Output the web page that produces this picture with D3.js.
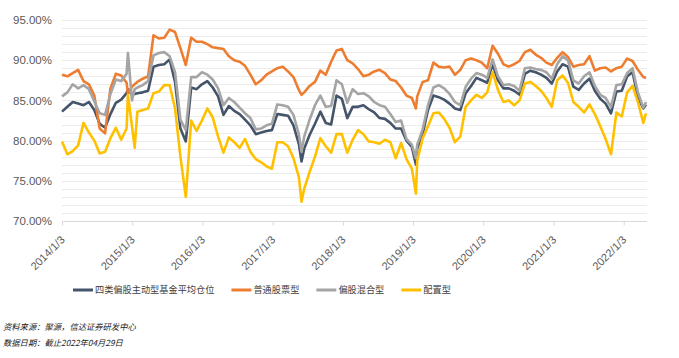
<!DOCTYPE html>
<html>
<head>
<meta charset="utf-8">
<script src="https://cdn.jsdelivr.net/npm/d3@7"></script>
<style>
  body { margin: 0; background: #fff; }
  svg { display: block; font-family: "Liberation Sans", Arial, sans-serif; }
  .grid line { stroke: #ececec; stroke-width: 1; }
  .axis text { fill: #595959; }
  .legend text { fill: #404040; font-family: "Noto Sans CJK SC", sans-serif; }
  .note { fill: #222; font-family: "Noto Sans CJK SC", sans-serif; font-style: italic; }
</style>
</head>
<body>
<svg id="chart" width="679" height="358"></svg>
<script>
// weekly positions, sampled every 4 weeks (plus a few spike weeks)
const dates = [
  '2014-01-03','2014-01-31','2014-02-28','2014-03-28','2014-04-25','2014-05-23','2014-06-20','2014-07-18','2014-08-15','2014-09-12','2014-10-10','2014-11-07','2014-12-05','2014-12-12',
  '2015-01-02','2015-01-16','2015-01-30','2015-02-27','2015-03-27','2015-04-24','2015-05-22','2015-06-19','2015-07-17','2015-08-14','2015-09-11','2015-10-09','2015-11-06','2015-12-04',
  '2016-01-01','2016-01-29','2016-02-26','2016-03-25','2016-04-22','2016-05-20','2016-06-17','2016-07-15','2016-08-12','2016-09-09','2016-10-07','2016-11-04','2016-12-02','2016-12-30',
  '2017-01-27','2017-02-24','2017-03-24','2017-04-21','2017-05-19','2017-06-02','2017-06-16','2017-07-14','2017-08-11','2017-09-08','2017-10-06','2017-11-03','2017-12-01','2017-12-29',
  '2018-01-26','2018-02-23','2018-03-23','2018-04-20','2018-05-18','2018-06-15','2018-07-13','2018-08-10','2018-09-07','2018-10-05','2018-11-02','2018-11-30','2018-12-28',
  '2019-01-18','2019-01-25','2019-02-22','2019-03-22','2019-04-19','2019-05-17','2019-06-14','2019-07-12','2019-08-09','2019-09-06','2019-10-04','2019-11-01','2019-11-29','2019-12-27',
  '2020-01-24','2020-02-21','2020-03-20','2020-04-17','2020-05-15','2020-06-12','2020-07-10','2020-08-07','2020-09-04','2020-10-02','2020-10-30','2020-11-27','2020-12-25',
  '2021-01-22','2021-02-19','2021-03-19','2021-04-16','2021-05-14','2021-06-11','2021-07-09','2021-08-06','2021-09-03','2021-10-01','2021-10-29','2021-11-26','2021-12-24',
  '2022-01-21','2022-02-18','2022-03-18','2022-04-15','2022-04-29'
];

// 四类偏股主动型基金平均仓位
const avgPos = [
  83.6, 84.2, 84.8, 84.6, 84.4, 84.8, 83.8, 82.1, 81.6, 83.3, 84.7, 85.1, 85.9, 86.4,
  85.7, 85.8, 85.9, 86.0, 86.2, 89.2, 89.4, 89.5, 90.1, 87.3, 81.5, 79.9, 86.6, 86.4,
  87.0, 87.4, 86.6, 85.5, 83.2, 84.3, 83.7, 83.3, 82.6, 81.9, 80.8, 81.0, 81.2, 81.3,
  83.3, 83.2, 83.1, 81.9, 79.6, 77.4, 79.0, 80.7, 82.1, 83.6, 82.2, 82.0, 85.6, 85.2,
  82.8, 84.2, 84.2, 84.4, 83.9, 83.5, 82.8, 82.7, 82.2, 81.5, 81.5, 80.0, 79.2,
  77.0, 79.0, 80.8, 83.8, 85.6, 85.4, 85.1, 84.6, 84.0, 83.8, 85.9, 86.8, 87.8, 87.5,
  87.2, 89.5, 87.5, 86.5, 86.5, 86.2, 85.7, 88.3, 88.7, 88.5, 88.2, 87.8, 87.1,
  88.6, 89.5, 89.2, 86.7, 86.3, 87.1, 87.7, 86.2, 85.2, 84.6, 83.4, 86.1, 86.2,
  88.0, 88.5, 85.4, 84.0, 84.5
];
// 普通股票型
const stockFund = [
  88.2, 88.0, 88.4, 88.8, 87.4, 87.0, 85.6, 81.5, 80.9, 86.5, 88.3, 88.1, 87.2, 85.8,
  86.7, 87.0, 87.3, 87.7, 88.0, 93.1, 92.7, 92.8, 93.8, 93.5, 91.5, 89.4, 92.8, 92.3,
  92.3, 92.0, 91.6, 91.5, 91.4, 90.5, 90.0, 89.8, 89.3, 88.2, 87.0, 87.5, 88.2, 88.6,
  89.0, 89.2, 88.6, 87.9, 86.3, 85.7, 86.0, 86.8, 87.3, 88.7, 88.2, 89.8, 91.2, 91.4,
  90.0, 89.6, 88.9, 88.0, 88.2, 88.6, 88.8, 88.4, 87.6, 87.4, 86.6, 85.6, 85.3,
  84.0, 85.5, 87.3, 87.5, 89.7, 89.2, 89.1, 89.2, 88.2, 88.8, 90.0, 90.2, 90.0, 89.7,
  89.0, 91.8, 90.8, 89.5, 89.2, 89.5, 89.9, 91.0, 91.3, 90.7, 90.3, 89.7, 89.4,
  90.3, 91.0, 90.4, 89.2, 89.4, 89.5, 90.5, 88.7, 89.0, 89.1, 88.6, 89.0, 89.2,
  90.2, 89.9, 88.8, 87.9, 87.8
];
// 偏股混合型
const mixedFund = [
  85.5, 86.0, 87.0, 86.5, 86.9, 86.4, 84.9, 83.4, 83.2, 85.8, 87.6, 87.4, 88.3, 90.9,
  85.0, 86.4, 86.6, 86.9, 87.4, 90.6, 90.9, 91.0, 90.5, 88.5, 82.6, 81.3, 87.9, 87.9,
  88.5, 88.2, 87.6, 86.5, 84.4, 85.3, 84.8, 84.1, 83.4, 82.8, 81.4, 81.5, 81.9, 82.1,
  84.5, 84.4, 84.2, 83.2, 80.8, 78.6, 80.5, 82.6, 84.4, 85.6, 84.2, 84.3, 87.5, 87.0,
  84.7, 86.4, 85.8, 85.9, 85.5, 84.8, 84.4, 84.2, 83.3, 82.3, 82.5, 80.2, 79.5,
  77.8, 79.5, 81.4, 84.4, 86.6, 86.9, 86.5, 85.8, 84.8, 84.4, 86.7, 87.7, 88.4, 88.2,
  87.8, 90.1, 88.0, 86.9, 87.0, 86.8, 86.2, 89.0, 89.1, 88.9, 88.8, 88.5, 87.7,
  89.5, 90.5, 90.0, 87.5, 87.1, 88.0, 88.5, 86.8, 85.7, 85.3, 84.2, 86.9, 87.0,
  88.4, 89.0, 86.0, 84.1, 84.8
];
// 配置型
const allocFund = [
  79.9, 78.3, 78.7, 79.4, 82.2, 81.0, 80.0, 78.4, 78.6, 80.3, 81.6, 80.1, 81.5, 85.7,
  81.8, 79.1, 83.6, 83.8, 84.0, 85.9, 86.1, 86.9, 86.9, 84.0, 78.0, 73.0, 82.5, 81.2,
  82.5, 84.0, 82.9, 80.5, 78.5, 80.4, 79.8, 79.1, 80.2, 78.6, 77.7, 77.3, 76.8, 76.5,
  79.8, 79.8, 79.3, 77.8, 75.5, 72.4, 74.0, 76.1, 78.0, 80.3, 79.3, 78.5, 80.8, 80.8,
  78.5, 80.1, 81.3, 80.8, 79.9, 79.8, 79.6, 80.1, 79.8, 77.8, 79.7, 77.7, 76.5,
  73.4, 77.5, 80.3, 81.8, 83.4, 83.5, 82.7, 81.6, 79.8, 80.5, 84.2, 85.0, 85.7, 85.3,
  86.0, 88.5, 86.3, 84.8, 85.0, 84.4, 85.0, 87.1, 87.3, 86.8, 86.2, 85.3, 84.2,
  87.5, 88.1, 87.2, 84.8, 84.2, 83.5, 84.5, 83.3, 81.8, 80.2, 78.3, 83.5, 83.0,
  86.0, 86.8, 84.8, 82.2, 83.4
];

const seriesNames = ['四类偏股主动型基金平均仓位', '普通股票型', '偏股混合型', '配置型'];
const seriesValues = [avgPos, stockFund, mixedFund, allocFund];
const seriesColors = ['#44546a', '#ed7d31', '#a5a5a5', '#ffc000'];

const xTickLabels = ['2014/1/3','2015/1/3','2016/1/3','2017/1/3','2018/1/3','2019/1/3','2020/1/3','2021/1/3','2022/1/3'];
const yTicks = [70, 75, 80, 85, 90, 95];

const parseDate = d3.timeParse('%Y-%m-%d');
const parseTick = d3.timeParse('%Y/%m/%d');
const fmtTick = d3.timeFormat('%Y/%-m/%-d');

const svg = d3.select('#chart');
const margin = {left: 62, right: 33, top: 20, bottom: 137};
const W = 679, H = 358;

const x = d3.scaleTime()
  .domain([parseDate(dates[0]), parseDate(dates[dates.length - 1])])
  .range([margin.left, W - margin.right]);
const y = d3.scaleLinear().domain([70, 95]).range([H - margin.bottom, margin.top]);

// minor + major gridlines, every 1%
svg.append('g').attr('class', 'grid')
  .selectAll('line')
  .data(d3.range(71, 96))
  .enter().append('line')
  .attr('x1', margin.left).attr('x2', W - margin.right + 1)
  .attr('y1', d => Math.round(y(d)) + 0.5)
  .attr('y2', d => Math.round(y(d)) + 0.5);

// y axis labels
const yAxis = svg.append('g').attr('class', 'axis')
  .attr('transform', `translate(${margin.left},0)`)
  .call(d3.axisLeft(y).tickValues(yTicks).tickSize(0).tickPadding(10)
    .tickFormat(d => d.toFixed(2) + '%'));
yAxis.select('.domain').remove();
yAxis.selectAll('text').style('font-size', '11.5px');

// x axis
const xAxis = svg.append('g').attr('class', 'axis')
  .attr('transform', `translate(0,${Math.round(y(70)) + 0.5})`)
  .call(d3.axisBottom(x).tickValues(xTickLabels.map(parseTick)).tickSize(4).tickSizeOuter(0)
    .tickFormat(fmtTick));
xAxis.select('.domain').attr('stroke', '#d9d9d9').attr('d', `M${margin.left},0H${W - margin.right + 1}`);
xAxis.selectAll('.tick line').attr('stroke', '#d9d9d9');
xAxis.selectAll('text')
  .style('font-size', '11px')
  .attr('text-anchor', 'end')
  .attr('dy', null)
  .attr('y', 0)
  .attr('transform', 'translate(3,19) rotate(-45)');

// lines
const parsed = dates.map(parseDate);
const line = d3.line()
  .x((d, i) => x(parsed[i]))
  .y(d => y(d));

svg.append('g').selectAll('path')
  .data(seriesValues)
  .enter().append('path')
  .attr('fill', 'none')
  .attr('stroke', (d, i) => seriesColors[i])
  .attr('stroke-width', 2.6)
  .attr('stroke-linejoin', 'round')
  .attr('d', line);

// legend
const legend = svg.append('g').attr('class', 'legend');
let lx = 73;
const ly = 290;
seriesNames.forEach((name, i) => {
  legend.append('line')
    .attr('x1', lx).attr('x2', lx + 20)
    .attr('y1', ly).attr('y2', ly)
    .attr('stroke', seriesColors[i]).attr('stroke-width', 3);
  const t = legend.append('text')
    .attr('x', lx + 22).attr('y', ly)
    .attr('dy', '0.35em')
    .style('font-size', '9.2px')
    .text(name);
  lx += 22 + t.node().getComputedTextLength() + 17;
});

// source notes
svg.append('text').attr('class', 'note')
  .attr('x', 3).attr('y', 330).style('font-size', '8.3px')
  .text('资料来源：聚源，信达证券研发中心');
svg.append('text').attr('class', 'note')
  .attr('x', 3).attr('y', 346).style('font-size', '8.3px')
  .text('数据日期：截止2022年04月29日');
</script>
</body>
</html>
